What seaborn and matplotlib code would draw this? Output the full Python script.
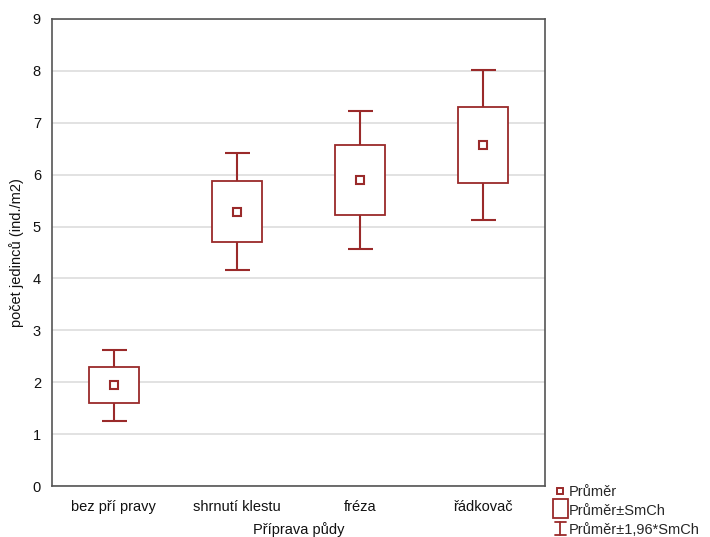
import matplotlib
matplotlib.use("Agg")
import matplotlib.pyplot as plt
import seaborn as sns
import pandas as pd
from matplotlib.lines import Line2D
from matplotlib.patches import Rectangle
from matplotlib.legend_handler import HandlerBase

categories = ["bez pří pravy", "shrnutí klestu", "fréza", "řádkovač"]
means = [1.94, 5.29, 5.90, 6.57]
se = [0.35, 0.58, 0.68, 0.74]
yticks = [0, 1, 2, 3, 4, 5, 6, 7, 8, 9]
legend_labels = ["Průměr", "Průměr±SmCh", "Průměr±1,96*SmCh"]

COL = "#9a2a2a"

sns.set_style("white")
plt.rcParams["font.family"] = ["Liberation Sans", "DejaVu Sans"]

df = pd.DataFrame({"cat": categories, "mean": means, "se": se})
df["lo"] = df["mean"] - df["se"]
df["ci"] = 1.96 * df["se"]

fig = plt.figure(figsize=(7.1, 5.37), dpi=100)
ax = fig.add_axes([52 / 710, 51 / 537, 493 / 710, 467 / 537])

xs = range(len(categories))
ax.errorbar(list(xs), df["mean"], yerr=df["ci"], fmt="none", ecolor=COL,
            elinewidth=1.5, capsize=9, capthick=1.5, zorder=2)
ax.bar(list(xs), 2 * df["se"], bottom=df["lo"], width=0.405,
       facecolor="white", edgecolor=COL, linewidth=1.3, zorder=3)
sns.pointplot(data=df, x="cat", y="mean", order=categories, linestyle="none",
              marker="s", markersize=6, markerfacecolor="white",
              markeredgecolor=COL, markeredgewidth=1.5, color=COL,
              errorbar=None, ax=ax, zorder=4)

ax.set_xlim(-0.5, 3.5)
ax.set_ylim(0, 9)
ax.set_yticks(yticks)
ax.set_xticks(list(xs))
ax.set_xticklabels(categories)
ax.grid(axis="y", color="#dddddd", linewidth=1.2, zorder=0)
ax.set_axisbelow(True)
for s in ax.spines.values():
    s.set_color("#555555")
    s.set_linewidth(1.2)
ax.tick_params(axis="both", direction="in", length=3, width=1, color="#333333",
               labelsize=10.5, labelcolor="#111111")
ax.tick_params(axis="x", pad=10)
ax.tick_params(axis="y", pad=8)
ax.set_xlabel("Příprava půdy", fontsize=10.5, color="#111111", labelpad=6)
ax.set_ylabel("počet jedinců (ind./m2)", fontsize=10.5, color="#111111", labelpad=6)


class HandlerI(HandlerBase):
    def create_artists(self, legend, orig_handle, xdescent, ydescent,
                       width, height, fontsize, trans):
        cx = width / 2 - xdescent
        y0 = -ydescent - 1
        y1 = height - ydescent + 1
        w = 4
        lines = [
            Line2D([cx, cx], [y0, y1], color=COL, lw=1.3, transform=trans),
            Line2D([cx - w, cx + w], [y0, y0], color=COL, lw=1.3, transform=trans),
            Line2D([cx - w, cx + w], [y1, y1], color=COL, lw=1.3, transform=trans),
        ]
        return lines


class HandlerBox(HandlerBase):
    def create_artists(self, legend, orig_handle, xdescent, ydescent,
                       width, height, fontsize, trans):
        cx = width / 2 - xdescent
        s = 13
        r = Rectangle((cx - s / 2 + 1, -ydescent - 2), s - 2, s, facecolor="white",
                      edgecolor=COL, lw=1.3, transform=trans)
        return [r]


h1 = Line2D([], [], marker="s", linestyle="none", markersize=5,
            markerfacecolor="white", markeredgecolor=COL, markeredgewidth=1.4)
h2 = Rectangle((0, 0), 1, 1)
h3 = Line2D([], [])
fig.legend([h1, h2, h3], legend_labels,
           handler_map={h2: HandlerBox(), h3: HandlerI()},
           loc="lower left", bbox_to_anchor=(545 / 710, -0.016),
           frameon=False, fontsize=10.5, handlelength=0.9, handletextpad=0.15,
           labelspacing=0.35, borderaxespad=0.2)

fig.savefig("out.png", dpi=100)
